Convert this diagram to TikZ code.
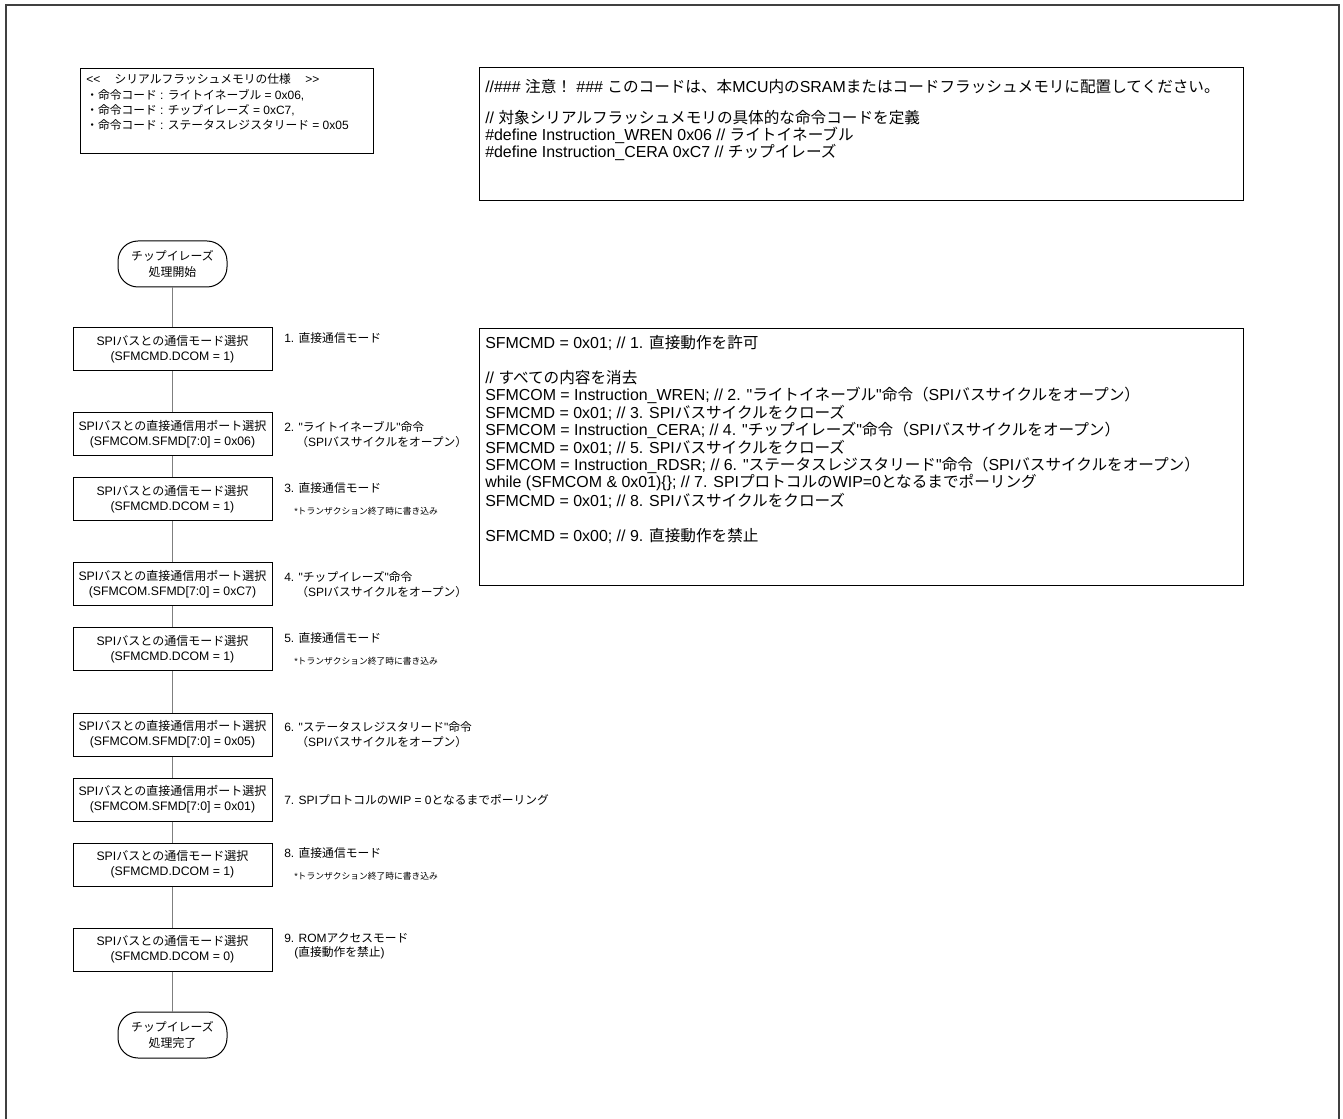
\documentclass[tikz,border=0pt]{standalone}
\usepackage{fontspec}
\setmainfont{Liberation Sans}
\newfontfamily\latinfont{Liberation Sans}
\newfontfamily\jpfont[Scale=0.98]{Noto Sans CJK JP}
% Japanese characters switch to the CJK font automatically
\XeTeXinterchartokenstate=1
\newXeTeXintercharclass\JPclass
\newcount\jpc
\def\setjprange#1#2{\jpc=#1 \loop\XeTeXcharclass\jpc=\JPclass \ifnum\jpc<#2 \advance\jpc by 1 \repeat}
\setjprange{"3000}{"30FF}
\setjprange{"4E00}{"9FFF}
\setjprange{"FF00}{"FFEF}
\XeTeXinterchartoks 0 \JPclass = {\jpfont}
\XeTeXinterchartoks 4095 \JPclass = {\jpfont}
\XeTeXinterchartoks \JPclass 0 = {\latinfont}
\XeTeXinterchartoks \JPclass 4095 = {\latinfont}
\definecolor{frameGray}{HTML}{404040}
\definecolor{flowGray}{HTML}{7F7F7F}

\begin{document}
\begin{tikzpicture}[x=0.75pt,y=-0.75pt,
  stepbox/.style={draw=black,line width=0.75pt,minimum width=149.25pt,minimum height=32.25pt,
    inner sep=0pt,align=center,font=\latinfont\fontsize{9.2}{11.25}\selectfont},
  term/.style={draw=black,line width=0.75pt,rounded corners=15pt,minimum width=81.75pt,
    minimum height=34.5pt,inner sep=0pt,align=center,font=\latinfont\fontsize{9.1}{12}\selectfont},
  flow/.style={draw=flowGray,line width=1pt},
  panel/.style={draw=black,line width=0.75pt,anchor=north west,inner sep=0pt},
  lbl/.style={anchor=west,inner sep=0pt,font=\latinfont\fontsize{9}{10}\selectfont},
  note/.style={anchor=west,inner sep=0pt,font=\latinfont\fontsize{6.7}{7}\selectfont},
  spec/.style={anchor=west,inner sep=0pt,font=\latinfont\fontsize{9}{10}\selectfont},
  codeline/.style={anchor=west,inner sep=0pt,font=\latinfont\fontsize{11.95}{13}\selectfont}]
\useasboundingbox (0,0) rectangle (1343,1119);
\draw[frameGray,line width=1.5pt] (6,1119) -- (6,5) -- (1339,5) -- (1339,1119);

% specification box
\node[panel,minimum width=219.75pt,minimum height=63.75pt] (specbox) at (80,68) {};
\node[spec] (spec1) at (86,79) {<<\hspace{1.2em}シリアルフラッシュメモリの仕様\hspace{1.2em}>>};
\node[spec] (spec2) at (86,95) {・命令コード : ライトイネーブル = 0x06,};
\node[spec] (spec3) at (86,110) {・命令コード : チップイレーズ = 0xC7,};
\node[spec] (spec4) at (86,125) {・命令コード : ステータスレジスタリード = 0x05};

% notice box
\node[panel,minimum width=573pt,minimum height=99.75pt] (notebox) at (479,67) {};
\node[codeline] (note1) at (485,87) {//\#\#\# 注意！ \#\#\# このコードは、本MCU内のSRAMまたはコードフラッシュメモリに配置してください。};
\node[codeline] (note2) at (485,118) {// 対象シリアルフラッシュメモリの具体的な命令コードを定義};
\node[codeline] (note3) at (485,135) {\#define Instruction\_WREN 0x06 // ライトイネーブル};
\node[codeline] (note4) at (485,152) {\#define Instruction\_CERA 0xC7 // チップイレーズ};

% code box
\node[panel,minimum width=573pt,minimum height=192.75pt] (codebox) at (479,328) {};
\node[codeline] (c1) at (485,343) {SFMCMD = 0x01; // 1. 直接動作を許可};
\node[codeline] (c2) at (485,378) {// すべての内容を消去};
\node[codeline] (c3) at (485,395.5) {SFMCOM = Instruction\_WREN; // 2. "ライトイネーブル"命令（SPIバスサイクルをオープン）};
\node[codeline] (c4) at (485,413) {SFMCMD = 0x01; // 3. SPIバスサイクルをクローズ};
\node[codeline] (c5) at (485,430.5) {SFMCOM = Instruction\_CERA; // 4. "チップイレーズ"命令（SPIバスサイクルをオープン）};
\node[codeline] (c6) at (485,448) {SFMCMD = 0x01; // 5. SPIバスサイクルをクローズ};
\node[codeline] (c7) at (485,465.5) {SFMCOM = Instruction\_RDSR; // 6. "ステータスレジスタリード"命令（SPIバスサイクルをオープン）};
\node[codeline] (c8) at (485,483) {while (SFMCOM \& 0x01)\{\}; // 7. SPIプロトコルのWIP=0となるまでポーリング};
\node[codeline] (c9) at (485,500.5) {SFMCMD = 0x01; // 8. SPIバスサイクルをクローズ};
\node[codeline] (c10) at (485,535.5) {SFMCMD = 0x00; // 9. 直接動作を禁止};

% flow
\node[term] (start) at (172.5,264) {チップイレーズ\\処理開始};
\node[stepbox] (b1) at (172.5,349.5) {SPIバスとの通信モード選択\\(SFMCMD.DCOM = 1)};
\node[stepbox] (b2) at (172.5,434.5) {SPIバスとの直接通信用ポート選択\\(SFMCOM.SFMD[7:0] = 0x06)};
\node[stepbox] (b3) at (172.5,499.5) {SPIバスとの通信モード選択\\(SFMCMD.DCOM = 1)};
\node[stepbox] (b4) at (172.5,584.5) {SPIバスとの直接通信用ポート選択\\(SFMCOM.SFMD[7:0] = 0xC7)};
\node[stepbox] (b5) at (172.5,649.5) {SPIバスとの通信モード選択\\(SFMCMD.DCOM = 1)};
\node[stepbox] (b6) at (172.5,734.5) {SPIバスとの直接通信用ポート選択\\(SFMCOM.SFMD[7:0] = 0x05)};
\node[stepbox] (b7) at (172.5,799.5) {SPIバスとの直接通信用ポート選択\\(SFMCOM.SFMD[7:0] = 0x01)};
\node[stepbox] (b8) at (172.5,864.5) {SPIバスとの通信モード選択\\(SFMCMD.DCOM = 1)};
\node[stepbox] (b9) at (172.5,949.5) {SPIバスとの通信モード選択\\(SFMCMD.DCOM = 0)};
\node[term] (finish) at (172.5,1035) {チップイレーズ\\処理完了};
\foreach \a/\b in {start/b1,b1/b2,b2/b3,b3/b4,b4/b5,b5/b6,b6/b7,b7/b8,b8/b9,b9/finish}
  \draw[flow] (\a) -- (\b);

% step labels
\node[lbl] (l1) at (284,338) {1. 直接通信モード};
\node[lbl] (l2a) at (284,427) {2. "ライトイネーブル"命令};
\node[lbl] (l2b) at (296,442) {（SPIバスサイクルをオープン）};
\node[lbl] (l3) at (284,488) {3. 直接通信モード};
\node[note] (n3) at (294,511) {*トランザクション終了時に書き込み};
\node[lbl] (l4a) at (284,577) {4. "チップイレーズ"命令};
\node[lbl] (l4b) at (296,592) {（SPIバスサイクルをオープン）};
\node[lbl] (l5) at (284,638) {5. 直接通信モード};
\node[note] (n5) at (294,661) {*トランザクション終了時に書き込み};
\node[lbl] (l6a) at (284,727) {6. "ステータスレジスタリード"命令};
\node[lbl] (l6b) at (296,742) {（SPIバスサイクルをオープン）};
\node[lbl] (l7) at (284,800) {7. SPIプロトコルのWIP = 0となるまでポーリング};
\node[lbl] (l8) at (284,853) {8. 直接通信モード};
\node[note] (n8) at (294,876) {*トランザクション終了時に書き込み};
\node[lbl] (l9a) at (284,938) {9. ROMアクセスモード};
\node[lbl] (l9b) at (294,953) {(直接動作を禁止)};
\end{tikzpicture}
\end{document}
